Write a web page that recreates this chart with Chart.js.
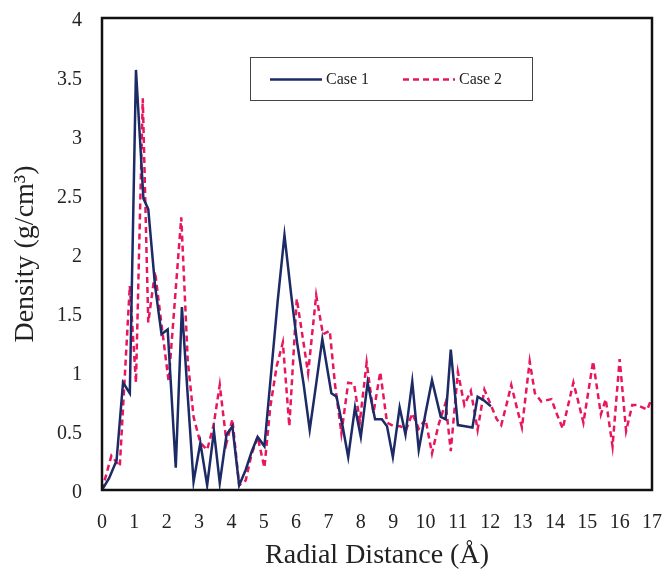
<!DOCTYPE html>
<html>
<head>
<meta charset="utf-8">
<script src="https://cdn.jsdelivr.net/npm/chart.js@4/dist/chart.umd.min.js"></script>
<style>
  html, body { margin: 0; padding: 0; background: #fff; }
  #wrap { width: 666px; height: 575px; position: relative; }
</style>
</head>
<body>
<div id="wrap"><canvas id="density"></canvas></div>
<script>
// radial distance (Å) and density (g/cm³) for each case
const case1X = [0, 0.22, 0.45, 0.65, 0.86, 1.05, 1.28, 1.43, 1.64, 1.84, 2.03, 2.28, 2.47, 2.65, 2.83,
  3.04, 3.25, 3.46, 3.64, 3.85, 4.03, 4.24, 4.44, 4.62, 4.81, 5.02, 5.23, 5.43, 5.64, 5.85,
  6.03, 6.23, 6.42, 6.62, 6.81, 7.09, 7.25, 7.43, 7.61, 7.82, 8.0, 8.21, 8.44, 8.65, 8.81,
  8.99, 9.2, 9.38, 9.59, 9.79, 10.0, 10.2, 10.47, 10.62, 10.78, 11.0, 11.22, 11.45, 11.61, 11.8, 12.02];
const case1Y = [0, 0.1, 0.25, 0.91, 0.82, 3.56, 2.47, 2.38, 1.73, 1.32, 1.36, 0.19, 1.55, 0.8, 0.07,
  0.4, 0.04, 0.5, 0.06, 0.47, 0.54, 0.04, 0.17, 0.32, 0.45, 0.37, 1.0, 1.6, 2.16, 1.65,
  1.25, 0.9, 0.51, 0.9, 1.28, 0.82, 0.79, 0.55, 0.28, 0.7, 0.45, 0.91, 0.6, 0.6, 0.54,
  0.28, 0.7, 0.47, 0.92, 0.34, 0.65, 0.93, 0.62, 0.6, 1.19, 0.55, 0.54, 0.53, 0.79, 0.76, 0.71];

const case2X = [0, 0.29, 0.55, 0.86, 1.05, 1.26, 1.43, 1.64, 1.84, 2.06, 2.45, 2.65, 2.83, 3.04, 3.25,
  3.45, 3.64, 3.85, 4.03, 4.24, 4.44, 4.62, 4.81, 5.02, 5.2, 5.4, 5.59, 5.79, 6.02, 6.2,
  6.37, 6.62, 6.83, 7.04, 7.2, 7.4, 7.61, 7.79, 7.97, 8.18, 8.39, 8.6, 8.81, 9.02, 9.22,
  9.4, 9.59, 9.79, 10.0, 10.2, 10.4, 10.62, 10.78, 11.0, 11.2, 11.4, 11.61, 11.82, 12.02, 12.2,
  12.34, 12.5, 12.65, 12.82, 12.98, 13.22, 13.38, 13.58, 13.89, 14.05, 14.24, 14.57, 14.72, 14.88, 15.18,
  15.42, 15.57, 15.78, 16.0, 16.2, 16.39, 16.55, 16.7, 16.85, 16.98];
const case2Y = [0, 0.29, 0.2, 1.73, 0.91, 3.32, 1.42, 1.85, 1.4, 0.92, 2.31, 1.1, 0.62, 0.4, 0.34,
  0.55, 0.89, 0.4, 0.6, 0.04, 0.08, 0.3, 0.45, 0.19, 0.7, 1.05, 1.25, 0.54, 1.62, 1.3,
  0.99, 1.65, 1.32, 1.35, 0.9, 0.48, 0.91, 0.9, 0.58, 1.08, 0.65, 1.0, 0.57, 0.54, 0.54,
  0.51, 0.65, 0.52, 0.6, 0.31, 0.55, 0.74, 0.33, 1.0, 0.72, 0.84, 0.51, 0.85, 0.72, 0.6,
  0.55, 0.72, 0.89, 0.7, 0.53, 1.09, 0.82, 0.75, 0.77, 0.65, 0.52, 0.91, 0.75, 0.57, 1.09,
  0.64, 0.77, 0.37, 1.11, 0.5, 0.72, 0.72, 0.7, 0.68, 0.77];

const seriesNames = ["Case 1", "Case 2"];
const xTicks = [0, 1, 2, 3, 4, 5, 6, 7, 8, 9, 10, 11, 12, 13, 14, 15, 16, 17];
const yTicks = [0, 0.5, 1, 1.5, 2, 2.5, 3, 3.5, 4];

const serif = "'Liberation Serif', 'Times New Roman', serif";
const navy = "#1c2a66";
const pink = "#e8175d";

const toPoints = (xs, ys) => xs.map((x, i) => ({ x, y: ys[i] }));

// black box around the plot plus the boxed legend up top
const framePlugin = {
  id: "frame",
  afterDatasetsDraw(chart) {
    const { ctx, chartArea: a } = chart;
    ctx.save();
    ctx.strokeStyle = "#111";
    ctx.lineWidth = 2.5;
    ctx.strokeRect(a.left, a.top, a.right - a.left, a.bottom - a.top);

    const bx = 250, by = 57, bw = 282, bh = 43;
    ctx.fillStyle = "#fff";
    ctx.fillRect(bx, by, bw, bh);
    ctx.lineWidth = 1;
    ctx.strokeStyle = "#444";
    ctx.strokeRect(bx + 0.5, by + 0.5, bw, bh);

    const cy = by + bh / 2 + 1;
    const items = chart.data.datasets;
    const starts = [270, 403];
    ctx.font = "16px " + serif;
    ctx.textBaseline = "middle";
    items.forEach((ds, i) => {
      const x0 = starts[i];
      ctx.beginPath();
      ctx.strokeStyle = ds.borderColor;
      ctx.lineWidth = 2.5;
      ctx.setLineDash(ds.borderDash || []);
      ctx.moveTo(x0, cy);
      ctx.lineTo(x0 + 52, cy);
      ctx.stroke();
      ctx.setLineDash([]);
      ctx.fillStyle = "#222";
      ctx.fillText(ds.label, x0 + 56, cy);
    });
    ctx.restore();
  }
};

new Chart(document.getElementById("density"), {
  type: "line",
  data: {
    datasets: [
      {
        label: seriesNames[0],
        data: toPoints(case1X, case1Y),
        borderColor: navy,
        borderWidth: 2.5,
        pointRadius: 0,
        tension: 0,
      },
      {
        label: seriesNames[1],
        data: toPoints(case2X, case2Y),
        borderColor: pink,
        borderWidth: 2.5,
        borderDash: [6, 4],
        pointRadius: 0,
        tension: 0,
      },
    ],
  },
  options: {
    responsive: true,
    maintainAspectRatio: false,
    animation: false,
    layout: { padding: { left: 0, right: 14, top: 18, bottom: 0 } },
    plugins: {
      legend: { display: false },
      tooltip: { enabled: false },
    },
    scales: {
      x: {
        type: "linear",
        min: 0,
        max: 17,
        afterBuildTicks: (s) => { s.ticks = xTicks.map((v) => ({ value: v })); },
        afterFit: (s) => { s.height = 85; s.paddingLeft = 0; s.paddingRight = 0; },
        grid: { display: false, drawTicks: false },
        border: { display: false },
        ticks: {
          padding: 21,
          maxRotation: 0,
          autoSkip: false,
          color: "#222",
          font: { family: serif, size: 20 },
          callback: (v) => String(v),
        },
        title: {
          display: true,
          text: "Radial Distance (Å)",
          color: "#222",
          font: { family: serif, size: 28 },
          padding: { top: 2, bottom: 3 },
        },
      },
      y: {
        min: 0,
        max: 4,
        afterBuildTicks: (s) => { s.ticks = yTicks.map((v) => ({ value: v })); },
        afterFit: (s) => { s.width = 102; s.paddingTop = 0; s.paddingBottom = 0; },
        grid: { display: false, drawTicks: false },
        border: { display: false },
        ticks: {
          padding: 20,
          labelOffset: 3,
          color: "#222",
          font: { family: serif, size: 20 },
          callback: (v) => String(v),
        },
        title: {
          display: true,
          text: "Density (g/cm³)",
          color: "#222",
          font: { family: serif, size: 28 },
          padding: { top: 9 },
        },
      },
    },
  },
  plugins: [framePlugin],
});
</script>
</body>
</html>
